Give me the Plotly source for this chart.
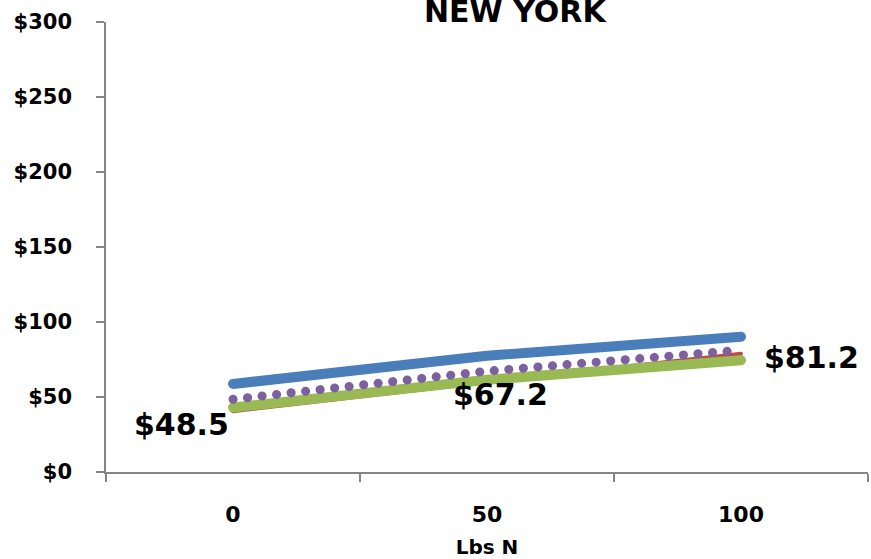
import plotly.graph_objects as go

# Nitrogen rate categories (lbs N per acre)
n_rates = ["0", "50", "100"]

# Cost series ($) for each nitrogen rate
series_blue = [58.7, 77.5, 90.2]
series_red = [40.5, 60.0, 78.8]
series_green = [43.0, 61.5, 74.5]
series_purple = [48.5, 67.2, 81.2]

y_ticks = [0, 50, 100, 150, 200, 250, 300]
y_tick_text = ["$%d" % v for v in y_ticks]

FONT = "DejaVu Sans"
AXIS_GRAY = "#868686"

fig = go.Figure()
fig.add_trace(go.Scatter(x=n_rates, y=series_blue, mode="lines",
                         line=dict(color="#4A7EBB", width=10)))
fig.add_trace(go.Scatter(x=n_rates, y=series_red, mode="lines",
                         line=dict(color="#BE4B48", width=4)))
fig.add_trace(go.Scatter(x=n_rates, y=series_green, mode="lines",
                         line=dict(color="#98B954", width=10)))
fig.add_trace(go.Scatter(x=n_rates, y=series_purple, mode="lines",
                         line=dict(color="#7D60A0", width=9, dash="0.1px,14.5px")))

# Value labels for the dotted series, nudged off the line
# (category positions are given by index so "50"/"100" are not read as numbers)
label_shift = [(-52, -25), (13, -23), (70, -7)]
for i, (yv, (dx, dy)) in enumerate(zip(series_purple, label_shift)):
    fig.add_annotation(x=i, y=yv, text="$%.1f" % yv, showarrow=False,
                       xshift=dx, yshift=dy,
                       font=dict(family=FONT, size=30, color="black", weight="bold"))

fig.add_annotation(x=0.538, y=1.0, xref="paper", yref="paper", yanchor="bottom",
                   text="NEW YORK", showarrow=False, yshift=-9,
                   font=dict(family=FONT, size=30, color="black", weight="bold"))

fig.update_layout(
    width=871, height=559,
    margin=dict(l=106, r=3, t=22, b=87),
    paper_bgcolor="white", plot_bgcolor="white",
    showlegend=False,
    font=dict(family=FONT, color="black"),
    xaxis=dict(
        type="category", range=[-0.5, 2.5], tickson="boundaries",
        showgrid=False, zeroline=False,
        showline=True, linecolor=AXIS_GRAY, linewidth=1.5,
        ticks="outside", ticklen=8, tickcolor=AXIS_GRAY, tickwidth=1.5,
        ticklabelstandoff=22,
        tickfont=dict(family=FONT, size=22, color="black", weight="bold"),
        title=dict(text="Lbs N", standoff=14,
                   font=dict(family=FONT, size=20, color="black", weight="bold")),
    ),
    yaxis=dict(
        range=[0, 300], tickvals=y_ticks, ticktext=y_tick_text,
        showgrid=False, zeroline=False,
        showline=True, linecolor=AXIS_GRAY, linewidth=1.5,
        ticks="outside", ticklen=8, tickcolor=AXIS_GRAY, tickwidth=1.5,
        ticklabelstandoff=20,
        tickfont=dict(family=FONT, size=21, color="black", weight="bold"),
    ),
)

# Round line caps give the dotted series round dots and the thick lines round ends
round_caps = """
var gd = document.getElementsByClassName('plotly-graph-div')[0];
function capLines() {
  gd.querySelectorAll('.scatterlayer path.js-line').forEach(function (p) {
    p.style.strokeLinecap = 'round';
  });
}
capLines();
gd.on('plotly_afterplot', capLines);
"""

fig.write_html("out.html", post_script=round_caps)
